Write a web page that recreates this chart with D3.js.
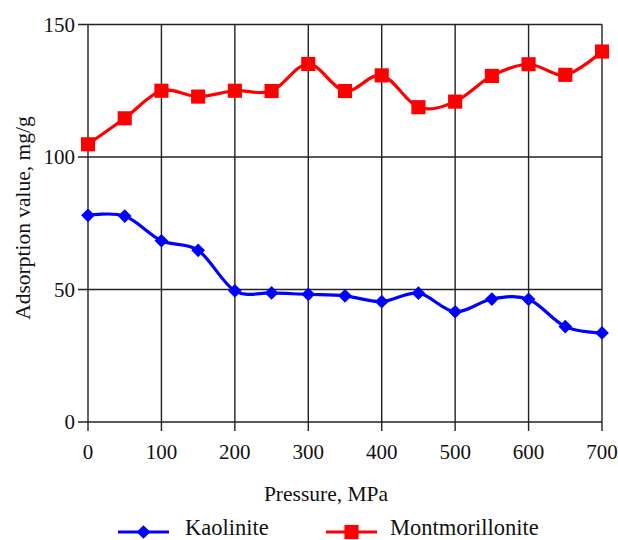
<!DOCTYPE html>
<html><head><meta charset="utf-8">
<script src="https://cdn.jsdelivr.net/npm/d3@7"></script>
<style>body{margin:0;background:#fff}svg{display:block}</style>
</head><body>
<script>
const pressures = [0,50,100,150,200,250,300,350,400,450,500,550,600,650,700];
const kaolinite = [78,77.7,68.4,64.8,49.5,48.7,48.2,47.6,45.4,48.6,41.6,46.4,46.3,36,33.6];
const montmorillonite = [104.8,114.6,125,122.8,125,124.9,135.1,124.9,130.8,118.8,120.9,130.6,135,131,139.8];
const xTicks = [0,100,200,300,400,500,600,700];
const yTicks = [0,50,100,150];
const seriesNames = ["Kaolinite","Montmorillonite"];
const seriesColors = ["#0000ff","#ff0000"];

const W=618,H=540;
const FONT="Liberation Serif";
const svg=d3.select("body").append("svg").attr("width",W).attr("height",H);
const x=d3.scaleLinear().domain([0,700]).range([88,602]);
const y=d3.scaleLinear().domain([0,150]).range([422,24.5]);

const grid=svg.append("g").attr("stroke","#222").attr("stroke-width",1.4);
xTicks.forEach(v=>grid.append("line").attr("x1",x(v)).attr("x2",x(v)).attr("y1",y(150)).attr("y2",y(0)+9));
yTicks.forEach(v=>grid.append("line").attr("y1",y(v)).attr("y2",y(v)).attr("x1",x(0)-10).attr("x2",x(700)));

const xl=svg.append("g").attr("text-anchor","middle").attr("fill","#111");
xTicks.forEach(v=>xl.append("text").attr("x",x(v)).attr("y",459).style("font-family",FONT).style("font-size","21px").text(v));
const yl=svg.append("g").attr("text-anchor","end").attr("fill","#111");
yTicks.forEach(v=>yl.append("text").attr("x",75).attr("y",y(v)+7).style("font-family",FONT).style("font-size","21px").text(v));

svg.append("text").attr("x",326).attr("y",501).attr("text-anchor","middle").attr("fill","#111").style("font-family",FONT).style("font-size","21.5px").text("Pressure, MPa");
svg.append("text").attr("transform","translate(30,218) rotate(-90)").attr("text-anchor","middle").attr("fill","#111").style("font-family",FONT).style("font-size","21.5px").text("Adsorption value, mg/g");

const line=d3.line().x((d,i)=>x(pressures[i])).y(d=>y(d)).curve(d3.curveCatmullRom.alpha(0));
const diamond=d3.symbol().type(d3.symbolDiamond2).size(120);
const square=d3.symbol().type(d3.symbolSquare).size(200);

[kaolinite,montmorillonite].forEach((data,k)=>{
  svg.append("path").attr("d",line(data)).attr("fill","none").attr("stroke",seriesColors[k]).attr("stroke-width",3.2);
  svg.append("g").selectAll("path").data(data).join("path")
    .attr("transform",(d,i)=>`translate(${x(pressures[i])},${y(d)})`)
    .attr("d",k===0?diamond:square).attr("fill",seriesColors[k]);
});

const leg=[{x0:118,tx:185},{x0:326,tx:390}];
leg.forEach((p,k)=>{
  const g=svg.append("g");
  g.append("line").attr("x1",p.x0).attr("x2",p.x0+51).attr("y1",532).attr("y2",532).attr("stroke",seriesColors[k]).attr("stroke-width",3.2);
  g.append("path").attr("transform",`translate(${p.x0+25.5},532)`).attr("d",k===0?diamond:square).attr("fill",seriesColors[k]);
  g.append("text").attr("x",p.tx).attr("y",535).attr("fill","#111").style("font-family",FONT).style("font-size","22.5px").text(seriesNames[k]);
});
</script>
</body></html>
